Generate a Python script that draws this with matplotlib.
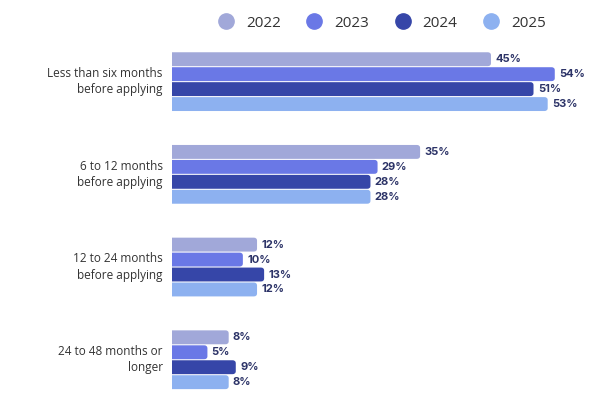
import matplotlib.pyplot as plt
from matplotlib.lines import Line2D
from matplotlib.patches import FancyBboxPatch
import numpy as np

categories = ['Less than six months\nbefore applying', '6 to 12 months\nbefore applying',
              '12 to 24 months\nbefore applying', '24 to 48 months or\nlonger']
years = ['2022', '2023', '2024', '2025']
values = {
    '2022': [45, 35, 12, 8],
    '2023': [54, 29, 10, 5],
    '2024': [51, 28, 13, 9],
    '2025': [53, 28, 12, 8],
}
colors = ['#A1A8D9', '#6A78E6', '#3646A8', '#8DB1F0']

fig = plt.figure(figsize=(6.12, 3.98), dpi=100)
ax = fig.add_axes([0.281, 0.021, 0.695, 0.849])

group_pitch = 6.2
group_y = np.arange(len(categories)) * group_pitch
bar_h = 0.93

for j, yr in enumerate(years):
    ys = group_y + j
    for y, v in zip(ys, values[yr]):
        # start left of the axes so the left rounding is clipped away
        ax.add_patch(FancyBboxPatch((-2, y - bar_h / 2), v + 2, bar_h,
                                    boxstyle='round,pad=0,rounding_size=0.45',
                                    mutation_aspect=0.45, linewidth=0, color=colors[j]))
        ax.text(v + 0.6, y, f'{v}%', va='center', ha='left', fontsize=8,
                fontweight='bold', color='#2D3468', family='Inter')

ax.set_xlim(0, 60)
ax.set_ylim(group_y[-1] + 3.5, -0.5)
ax.axis('off')

for y, cat in zip(group_y + 1.5, categories):
    ax.text(-1.3, y, cat, ha='right', va='center', fontsize=8.5,
            color='#333333', family='Open Sans', linespacing=1.35)

handles = [Line2D([], [], marker='o', linestyle='none', markersize=11,
                  markerfacecolor=c, markeredgecolor=c) for c in colors]
fig.legend(handles, years, loc='center', bbox_to_anchor=(0.618, 0.942), ncol=4,
           frameon=False, handletextpad=0.3, columnspacing=1.2,
           prop={'family': 'Open Sans', 'size': 11}, labelcolor='#333333')

plt.savefig('out.png', dpi=100)
